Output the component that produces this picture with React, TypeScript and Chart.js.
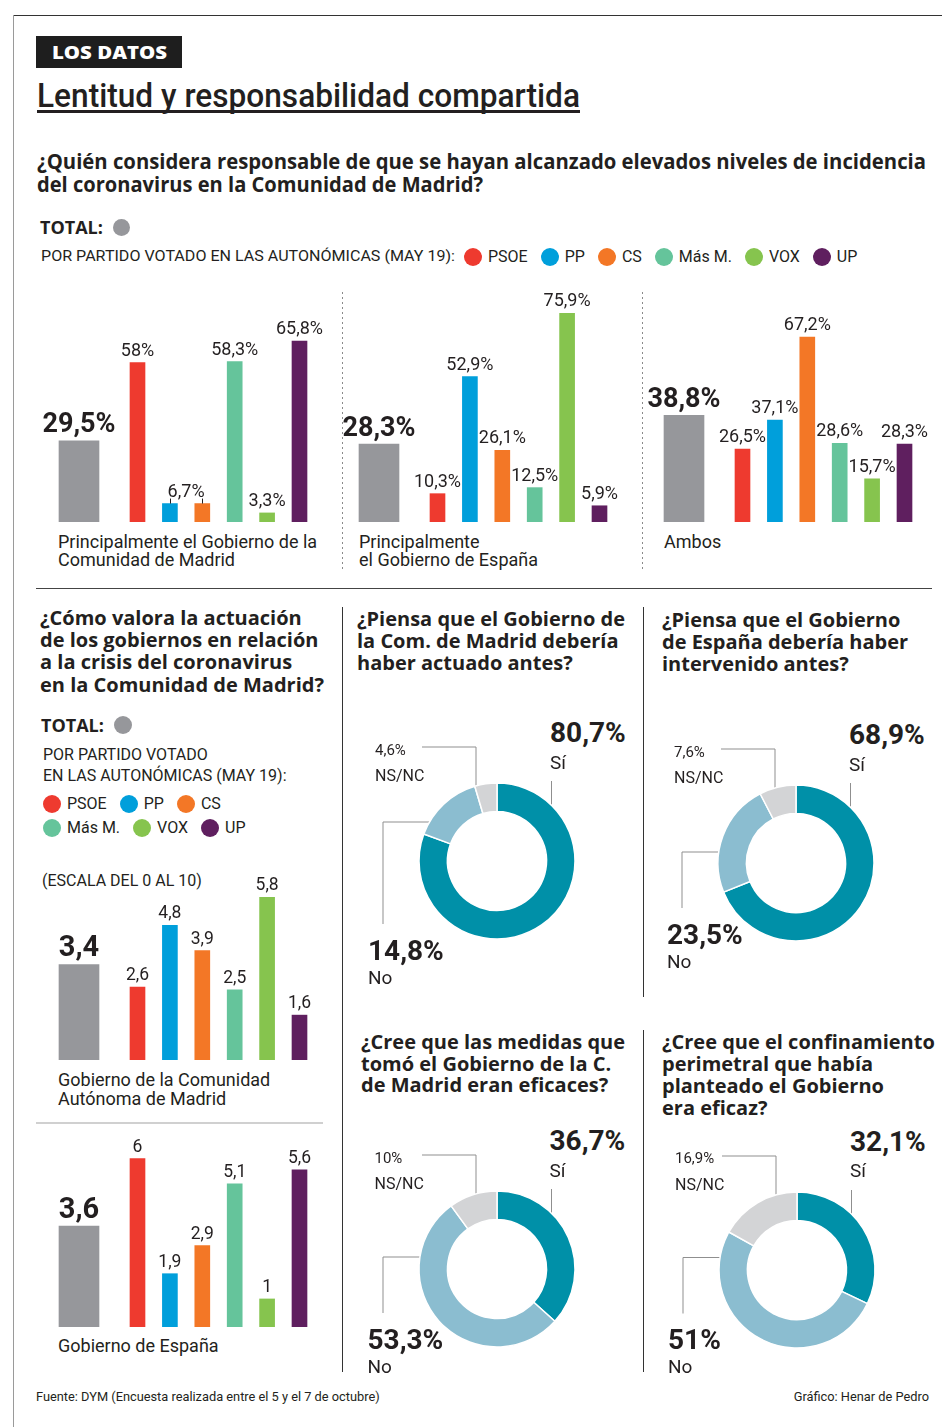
import React, { useEffect, useLayoutEffect, useRef } from "react";
import { Chart, registerables } from "chart.js";
Chart.register(...registerables);

const INK = "#231F20";
const SANS = "Roboto, 'Noto Sans', sans-serif";
const HEAD = "'Open Sans', Roboto, sans-serif";

// ---- data ----
const parties = ["PSOE", "PP", "CS", "Más M.", "VOX", "UP"];
const partyColors = ["#EE3A2F", "#009FDB", "#F37726", "#65C49B", "#86C44E", "#5F1F5F"];
const totalColor = "#96979B";

const respGobMadridTotal = 29.5;
const respGobMadrid = [58, 6.7, 6.7, 58.3, 3.3, 65.8];
const respGobEspanaTotal = 28.3;
const respGobEspana = [10.3, 52.9, 26.1, 12.5, 75.9, 5.9];
const respAmbosTotal = 38.8;
const respAmbos = [26.5, 37.1, 67.2, 28.6, 15.7, 28.3];

const valMadridTotal = 3.4;
const valMadrid = [2.6, 4.8, 3.9, 2.5, 5.8, 1.6];
const valEspanaTotal = 3.6;
const valEspana = [6, 1.9, 2.9, 5.1, 1, 5.6];

const donutLabels = ["Sí", "No", "NS/NC"];
const donutColors = ["#0090A8", "#8BBDD0", "#D3D4D6"];
const madridAntes = [80.7, 14.8, 4.6];
const espanaAntes = [68.9, 23.5, 7.6];
const medidasEficaces = [36.7, 53.3, 10];
const confinamientoEficaz = [32.1, 51, 16.9];

const fmt = (v: number, pct = false) => String(v).replace(".", ",") + (pct ? "%" : "");

// ---- text helpers ----
type TProps = { x: number; y: number; s: number; w?: number; f?: string; c?: string; fit?: number; right?: boolean; children: React.ReactNode };
function T({ x, y, s, w = 400, f = SANS, c = INK, fit, right, children }: TProps) {
  const ref = useRef<HTMLSpanElement>(null);
  useLayoutEffect(() => {
    const el = ref.current;
    if (!el || !fit) return;
    el.style.transform = "none";
    const nat = el.getBoundingClientRect().width;
    if (nat > 0) el.style.transform = `scaleX(${fit / nat})`;
  }, [fit]);
  const style: React.CSSProperties = {
    position: "absolute", top: y - s / 2, fontSize: s, lineHeight: `${s}px`, fontWeight: w, fontFamily: f,
    color: c, whiteSpace: "nowrap", transformOrigin: "left center",
  };
  if (right) style.right = 942 - x; else style.left = x;
  return <span ref={ref} style={style}>{children}</span>;
}

function Dot({ x, y, r, c }: { x: number; y: number; r: number; c: string }) {
  return <div style={{ position: "absolute", left: x - r, top: y - r, width: 2 * r, height: 2 * r, borderRadius: "50%", background: c }} />;
}

function LegendRow({ x, y, items }: { x: number; y: number; items: number[] }) {
  return (
    <div style={{ position: "absolute", left: x, top: y - 10, height: 20, display: "flex", alignItems: "center", gap: 13 }}>
      {items.map((i) => (
        <div key={i} style={{ display: "flex", alignItems: "center", gap: 6 }}>
          <div style={{ width: 18, height: 18, borderRadius: "50%", background: partyColors[i] }} />
          <span style={{ fontSize: 16, lineHeight: "16px", fontFamily: SANS, color: INK }}>{parties[i]}</span>
        </div>
      ))}
    </div>
  );
}

// ---- bar chart ----
const SLOT = 32.4;
const GRAY_OFFSET = 43;
const TOTAL_GAP = 58.5 / SLOT;
const BAR_W = 300;

function BarPanel({ left, top, height, yMax, total, values, pct, big, small }: {
  left: number; top: number; height: number; yMax: number; total: number; values: number[]; pct: boolean; big: number; small: number;
}) {
  const ref = useRef<HTMLCanvasElement>(null);
  useEffect(() => {
    const xmin = -GRAY_OFFSET / SLOT;
    const xmax = xmin + BAR_W / SLOT;
    const labelPlugin = {
      id: "barLabels",
      afterDatasetsDraw(chart: any) {
        const ctx = chart.ctx;
        ctx.save();
        ctx.fillStyle = INK;
        ctx.strokeStyle = INK;
        ctx.textAlign = "center";
        ctx.textBaseline = "alphabetic";
        const tm = chart.getDatasetMeta(0).data[0];
        ctx.font = `bold ${big}px Roboto`;
        ctx.fillText(fmt(total, pct), tm.x, tm.y - 8.5);
        const pm = chart.getDatasetMeta(1).data;
        ctx.font = `${small}px Roboto`;
        let i = 0;
        while (i < values.length) {
          const el = pm[i];
          if (i + 1 < values.length && values[i + 1] === values[i]) {
            const el2 = pm[i + 1];
            const t = Math.min(el.y, el2.y);
            ctx.fillText(fmt(values[i], pct), (el.x + el2.x) / 2, t - 7);
            ctx.lineWidth = 1;
            ctx.beginPath();
            ctx.moveTo(Math.round(el.x) + 0.5, t - 5);
            ctx.lineTo(Math.round(el.x) + 0.5, el.y);
            ctx.moveTo(Math.round(el2.x) + 0.5, t - 5);
            ctx.lineTo(Math.round(el2.x) + 0.5, el2.y);
            ctx.stroke();
            i += 2;
          } else {
            ctx.fillText(fmt(values[i], pct), el.x, el.y - 7);
            i += 1;
          }
        }
        ctx.restore();
      },
    };
    const chart = new Chart(ref.current as HTMLCanvasElement, {
      type: "bar",
      data: {
        datasets: [
          { label: "TOTAL", data: [{ x: 0, y: total }], backgroundColor: totalColor, barThickness: 40, grouped: false } as any,
          { label: "Partidos", data: values.map((v, i) => ({ x: TOTAL_GAP + i, y: v })), backgroundColor: partyColors, barThickness: 15, grouped: false } as any,
        ],
      },
      options: {
        animation: false,
        responsive: false,
        events: [],
        layout: { padding: 0 },
        plugins: { legend: { display: false }, tooltip: { enabled: false } },
        scales: {
          x: { type: "linear", min: xmin, max: xmax, display: false, offset: false } as any,
          y: { min: 0, max: yMax, display: false },
        },
      },
      plugins: [labelPlugin],
    });
    return () => chart.destroy();
  }, []);
  return <canvas ref={ref} width={BAR_W} height={height} style={{ position: "absolute", left, top, width: BAR_W, height }} />;
}

// ---- doughnut ----
const R = 78;
function Donut({ cx, cy, values, noY, noLeaderY }: { cx: number; cy: number; values: number[]; noY: number; noLeaderY: number }) {
  const ref = useRef<HTMLCanvasElement>(null);
  useEffect(() => {
    const chart = new Chart(ref.current as HTMLCanvasElement, {
      type: "doughnut",
      data: { labels: donutLabels, datasets: [{ data: values, backgroundColor: donutColors, borderColor: "#fff", borderWidth: 1.5 }] },
      options: {
        animation: false, responsive: false, events: [],
        radius: R, cutout: "63.5%",
        plugins: { legend: { display: false }, tooltip: { enabled: false } },
      } as any,
    });
    return () => chart.destroy();
  }, []);
  const S = 160;
  const ring = (d: number) => Math.sqrt(R * R - d * d);
  const siX = 54.5, nsX = -21, noX = -114;
  const nsY = -114;
  const lines = [
    `M${S + siX},${S - 80} L${S + siX},${S - ring(siX)}`,
    `M${S - 75},${S + nsY} L${S + nsX},${S + nsY} L${S + nsX},${S - ring(nsX)}`,
    `M${S - ring(noLeaderY)},${S + noLeaderY} L${S + noX},${S + noLeaderY} L${S + noX},${S + noY - 27}`,
  ];
  return (
    <>
      <svg width={2 * S} height={2 * S} style={{ position: "absolute", left: cx - S, top: cy - S, overflow: "visible" }}>
        {lines.map((d, i) => (
          <path key={i} d={d} fill="none" stroke="#8f8f8f" strokeWidth={1} />
        ))}
      </svg>
      <canvas ref={ref} width={180} height={180} style={{ position: "absolute", left: cx - 90, top: cy - 90, width: 180, height: 180 }} />
      <T x={cx + 53} y={cy - 128} s={28} w={700}>{fmt(values[0], true)}</T>
      <T x={cx + 53} y={cy - 99} s={19}>{donutLabels[0]}</T>
      <T x={cx - 122} y={cy - 111} s={15}>{fmt(values[2], true)}</T>
      <T x={cx - 122} y={cy - 85} s={16}>{donutLabels[2]}</T>
      <T x={cx - 129} y={cy + noY} s={28} w={700}>{fmt(values[1], true)}</T>
      <T x={cx - 129} y={cy + noY + 26} s={19}>{donutLabels[1]}</T>
    </>
  );
}

export default function App() {
  const topH = 232;
  const topMax = topH / 2.75;
  const botH = 190;
  const botMax = botH / 28.05;
  return (
    <div style={{ position: "absolute", left: 0, top: 0, width: 942, height: 1427, background: "#fff", overflow: "hidden", fontFamily: SANS, color: INK }}>
      {/* frame */}
      <div style={{ position: "absolute", left: 13, top: 15, width: 929, height: 1, background: "#333" }} />
      <div style={{ position: "absolute", left: 13, top: 15, width: 1, height: 1412, background: "#9a9a9a" }} />

      {/* header */}
      <div style={{ position: "absolute", left: 36, top: 36, width: 146, height: 32, background: "#1E1E1E" }} />
      <T x={52} y={52} s={17} w={800} f={HEAD} c="#fff" fit={115}>LOS DATOS</T>
      <T x={37} y={95} s={33} w={500} fit={543}>Lentitud y responsabilidad compartida</T>
      <div style={{ position: "absolute", left: 37, top: 110, width: 543, height: 2.5, background: INK }} />

      <T x={37} y={161} s={21} w={700} f={HEAD} fit={889}>¿Quién considera responsable de que se hayan alcanzado elevados niveles de incidencia</T>
      <T x={37} y={184} s={21} w={700} f={HEAD} fit={446}>del coronavirus en la Comunidad de Madrid?</T>

      <T x={40} y={227} s={18} w={700} f={HEAD}>TOTAL:</T>
      <Dot x={121} y={227} r={8.5} c={totalColor} />
      <T x={41} y={257} s={15.5} fit={414}>POR PARTIDO VOTADO EN LAS AUTONÓMICAS (MAY 19):</T>
      <LegendRow x={464} y={257} items={[0, 1, 2, 3, 4, 5]} />

      {/* dividers */}
      <svg width={942} height={1427} style={{ position: "absolute", left: 0, top: 0 }}>
        <line x1={342.5} y1={292} x2={342.5} y2={570} stroke="#8a8a8a" strokeDasharray="2 3" />
        <line x1={642.5} y1={292} x2={642.5} y2={570} stroke="#8a8a8a" strokeDasharray="2 3" />
        <line x1={36} y1={588.5} x2={932} y2={588.5} stroke="#444" />
        <line x1={342.5} y1={607} x2={342.5} y2={1372} stroke="#333" />
        <line x1={643.5} y1={607} x2={643.5} y2={997} stroke="#333" />
        <line x1={643.5} y1={1030} x2={643.5} y2={1372} stroke="#333" />
        <line x1={36} y1={1123} x2={323} y2={1123} stroke="#d0d0d0" strokeWidth={2} />
      </svg>

      {/* top bar charts */}
      <BarPanel left={36} top={290} height={topH} yMax={topMax} total={respGobMadridTotal} values={respGobMadrid} pct big={27} small={18} />
      <BarPanel left={336} top={290} height={topH} yMax={topMax} total={respGobEspanaTotal} values={respGobEspana} pct big={27} small={18} />
      <BarPanel left={641} top={290} height={topH} yMax={topMax} total={respAmbosTotal} values={respAmbos} pct big={27} small={18} />
      <T x={58} y={541.5} s={18}>Principalmente el Gobierno de la</T>
      <T x={58} y={560} s={18}>Comunidad de Madrid</T>
      <T x={359} y={541.5} s={18}>Principalmente</T>
      <T x={359} y={560} s={18}>el Gobierno de España</T>
      <T x={664} y={541.5} s={18}>Ambos</T>

      {/* bottom left */}
      <T x={40} y={617.5} s={20} w={700} f={HEAD}>¿Cómo valora la actuación</T>
      <T x={40} y={640} s={20} w={700} f={HEAD}>de los gobiernos en relación</T>
      <T x={40} y={662} s={20} w={700} f={HEAD}>a la crisis del coronavirus</T>
      <T x={40} y={684.5} s={20} w={700} f={HEAD}>en la Comunidad de Madrid?</T>
      <T x={41} y={725} s={18} w={700} f={HEAD}>TOTAL:</T>
      <Dot x={123} y={725} r={9} c={totalColor} />
      <T x={43} y={755} s={16}>POR PARTIDO VOTADO</T>
      <T x={43} y={776} s={16}>EN LAS AUTONÓMICAS (MAY 19):</T>
      <LegendRow x={43} y={804} items={[0, 1, 2]} />
      <LegendRow x={43} y={828} items={[3, 4, 5]} />
      <T x={42} y={881} s={16}>(ESCALA DEL 0 AL 10)</T>
      <BarPanel left={36} top={870} height={botH} yMax={botMax} total={valMadridTotal} values={valMadrid} pct={false} big={29} small={17.5} />
      <T x={58} y={1080} s={18}>Gobierno de la Comunidad</T>
      <T x={58} y={1099} s={18}>Autónoma de Madrid</T>
      <BarPanel left={36} top={1137} height={botH} yMax={botMax} total={valEspanaTotal} values={valEspana} pct={false} big={29} small={17.5} />
      <T x={58} y={1346} s={18}>Gobierno de España</T>

      {/* doughnut titles */}
      <T x={357} y={618.5} s={20} w={700} f={HEAD}>¿Piensa que el Gobierno de</T>
      <T x={357} y={640.5} s={20} w={700} f={HEAD}>la Com. de Madrid debería</T>
      <T x={357} y={662.5} s={20} w={700} f={HEAD}>haber actuado antes?</T>
      <T x={662} y={619.5} s={20} w={700} f={HEAD}>¿Piensa que el Gobierno</T>
      <T x={662} y={642} s={20} w={700} f={HEAD}>de España debería haber</T>
      <T x={662} y={664} s={20} w={700} f={HEAD}>intervenido antes?</T>
      <T x={361} y={1042} s={20} w={700} f={HEAD}>¿Cree que las medidas que</T>
      <T x={361} y={1063.5} s={20} w={700} f={HEAD}>tomó el Gobierno de la C.</T>
      <T x={361} y={1085} s={20} w={700} f={HEAD}>de Madrid eran eficaces?</T>
      <T x={662} y={1042} s={20} w={700} f={HEAD}>¿Cree que el confinamiento</T>
      <T x={662} y={1064} s={20} w={700} f={HEAD}>perimetral que había</T>
      <T x={662} y={1086} s={20} w={700} f={HEAD}>planteado el Gobierno</T>
      <T x={662} y={1108} s={20} w={700} f={HEAD}>era eficaz?</T>

      <Donut cx={497} cy={861} values={madridAntes} noY={90} noLeaderY={-39} />
      <Donut cx={796} cy={863} values={espanaAntes} noY={72} noLeaderY={-11} />
      <Donut cx={496.5} cy={1269} values={medidasEficaces} noY={71} noLeaderY={-12} />
      <Donut cx={797} cy={1269.5} values={confinamientoEficaz} noY={70.5} noLeaderY={-12.5} />

      {/* footer */}
      <T x={36} y={1397} s={12.8}>Fuente: DYM (Encuesta realizada entre el 5 y el 7 de octubre)</T>
      <T x={929} y={1397} s={12.8} right>Gráfico: Henar de Pedro</T>
    </div>
  );
}
